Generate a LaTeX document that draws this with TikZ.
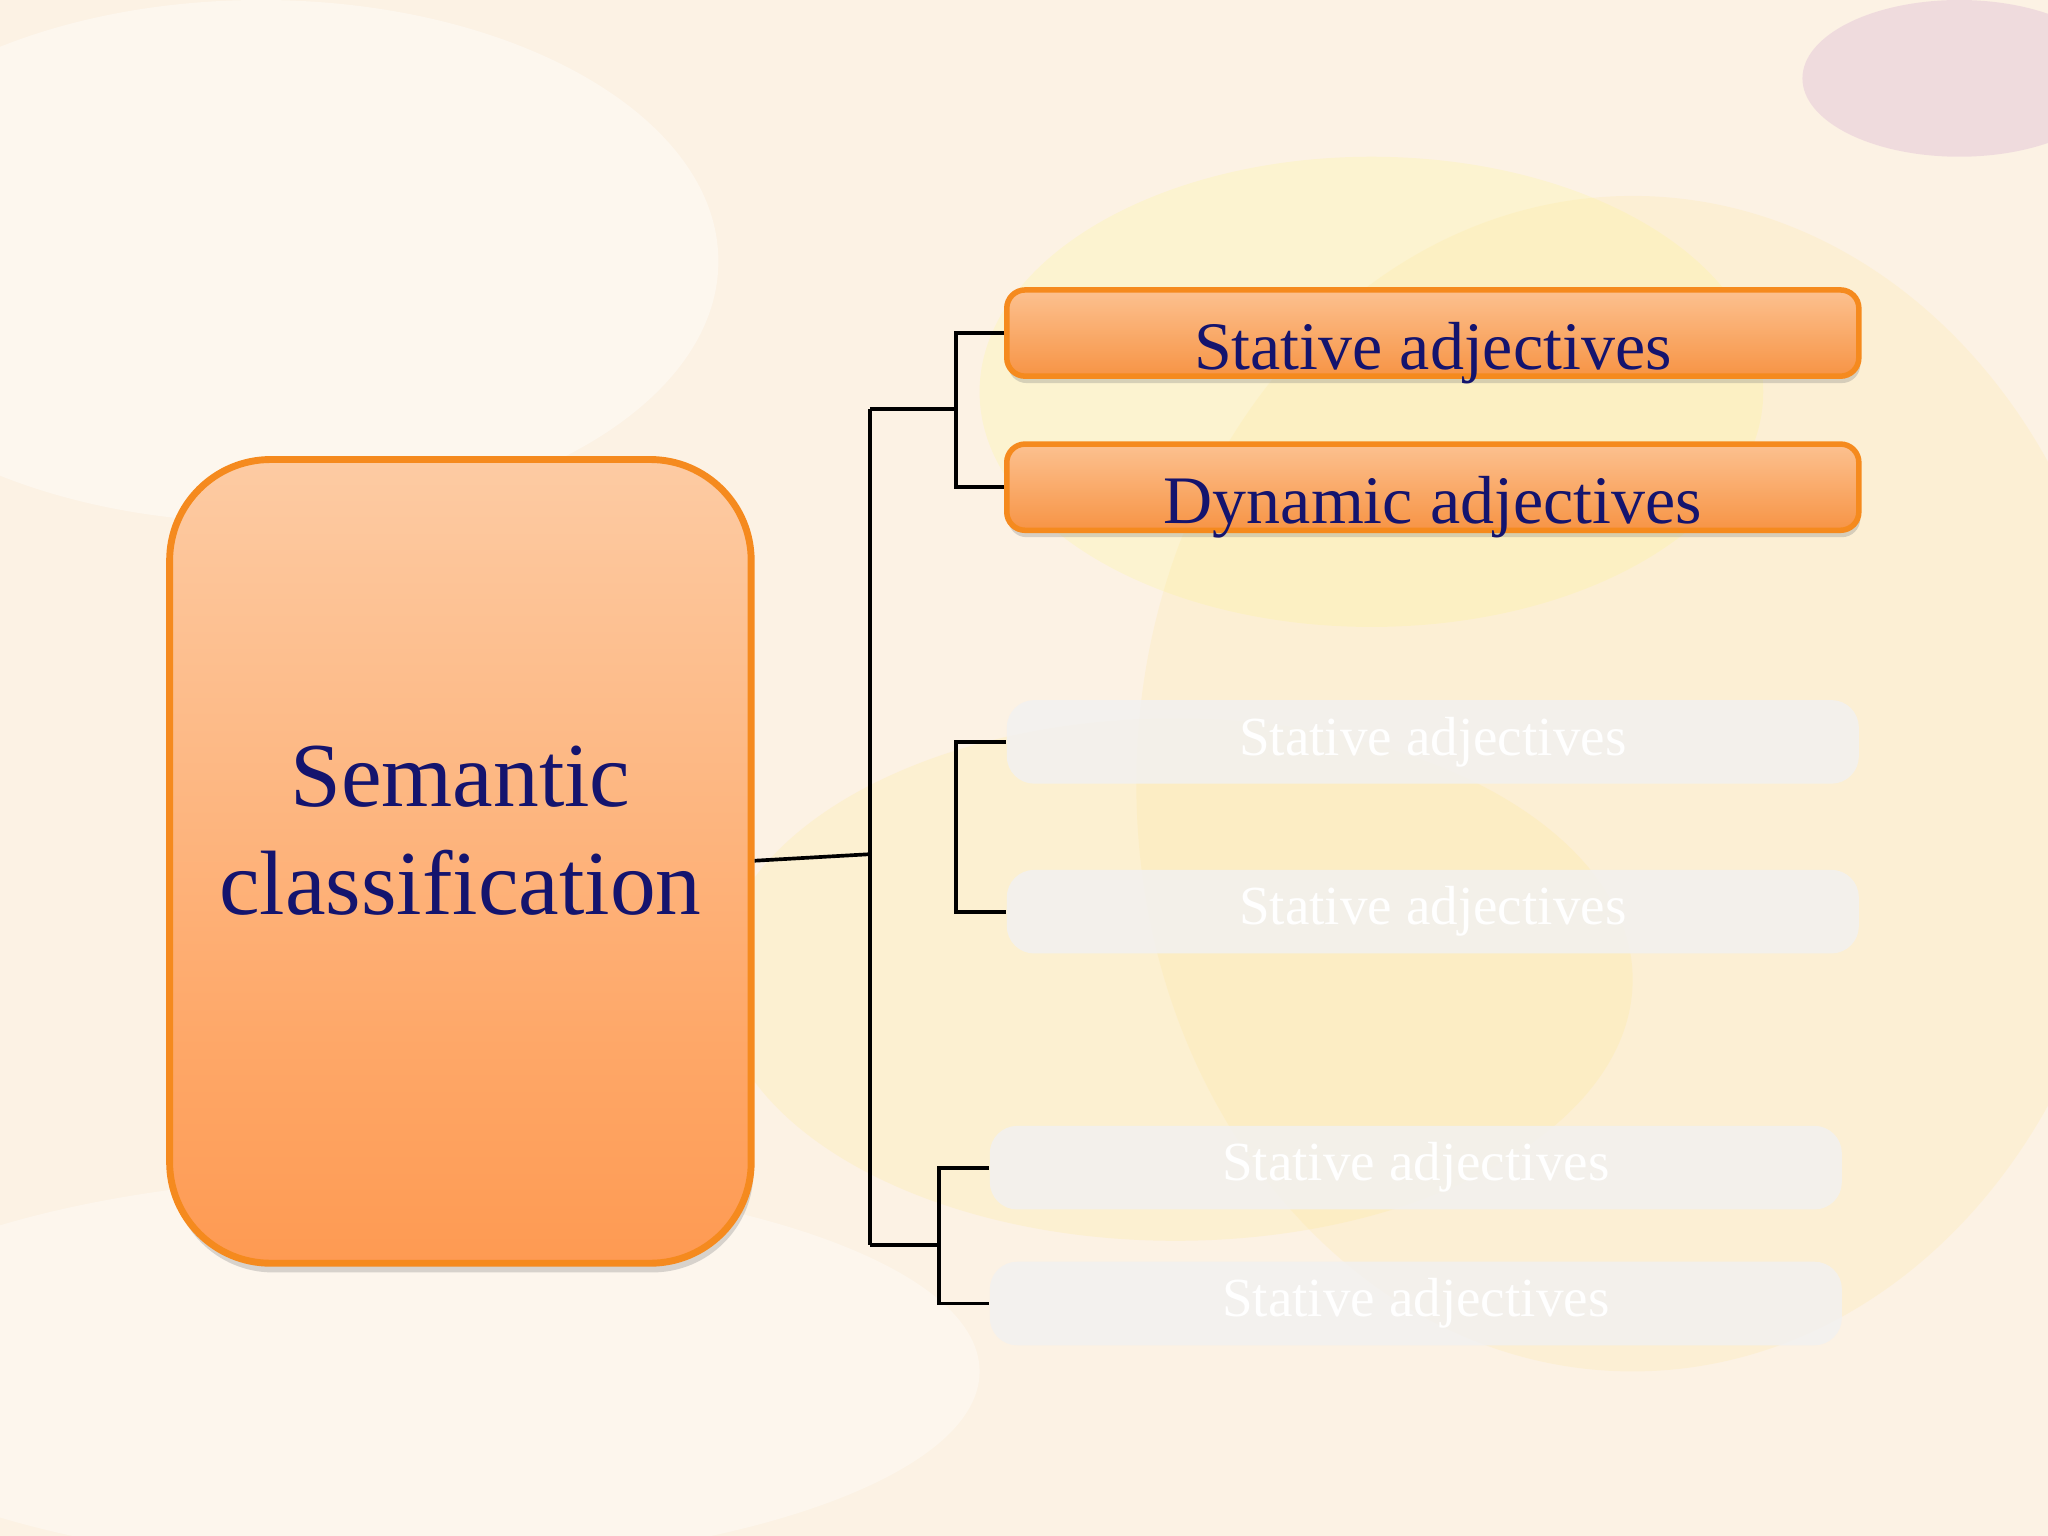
\documentclass[tikz,border=0pt]{standalone}
\usepackage{fontspec}
\setmainfont{Liberation Serif}
\usetikzlibrary{shadows}
\definecolor{navy}{HTML}{14146E}
\definecolor{obord}{HTML}{F58A1E}
\definecolor{otop}{HTML}{FDCBA3}
\definecolor{obot}{HTML}{FE9A52}
\definecolor{btop}{HTML}{FCC190}
\definecolor{bbot}{HTML}{F79445}
\definecolor{bg}{HTML}{FCF2E4}
\definecolor{ghost}{HTML}{F2F1F0}
\tikzset{
  orangebox/.style={draw=obord, line width=1.2pt, rounded corners=4pt, top color=btop, bottom color=bbot,
    minimum width=6.52cm, minimum height=0.66cm, text=navy, font=\fontsize{14.8}{16}\selectfont,
    drop shadow={shadow xshift=0.3pt, shadow yshift=-1.5pt, opacity=0.3}},
  ghostbox/.style={fill=ghost, fill opacity=0.85, text opacity=1, rounded corners=6pt,
    minimum width=6.52cm, minimum height=0.64cm, text=white, font=\fontsize{12}{14}\selectfont},
  conn/.style={draw=black, line width=0.8pt}
}
\begin{document}
\begin{tikzpicture}[x=0.01cm,y=-0.01cm]
\useasboundingbox (0,0) rectangle (1568,1176);
\fill[bg] (0,0) rectangle (1568,1176);
% soft background glows
\fill[yellow!60!orange!40, opacity=0.2] (1250,600) ellipse (380 and 450);
\fill[yellow!50, opacity=0.2] (1050,300) ellipse (300 and 180);
\fill[yellow!70!orange!50, opacity=0.18] (900,750) ellipse (350 and 200);
\fill[violet!40, opacity=0.25] (1500,60) ellipse (120 and 60);
\fill[white, opacity=0.4] (200,200) ellipse (350 and 200);
\fill[white, opacity=0.35] (300,1050) ellipse (450 and 150);
% main box
\node[draw=obord, line width=1.5pt, rounded corners=22pt, top color=otop, bottom color=obot,
  minimum width=4.45cm, minimum height=6.15cm,
  drop shadow={shadow xshift=0.5pt, shadow yshift=-2pt, opacity=0.3}]
  (main) at (352.5,659.5) {};
\node[text=navy, align=center, font=\fontsize{19.9}{23.5}\selectfont] (mtext) at (352.5,636) {Semantic\\classification};
% boxes
\node[orangebox, text depth=0pt, text height=12pt] (s1) at (1097,255) {\raisebox{-2pt}{Stative adjectives}};
\node[orangebox, text depth=0pt, text height=12pt] (s2) at (1097,373) {\raisebox{-2pt}{Dynamic adjectives}};
\node[ghostbox] (g1) at (1097,568) {\raisebox{-4pt}{Stative adjectives}};
\node[ghostbox] (g2) at (1097,698) {\raisebox{-4pt}{Stative adjectives}};
\node[ghostbox] (g3) at (1084,894) {\raisebox{-4pt}{Stative adjectives}};
\node[ghostbox] (g4) at (1084,998) {\raisebox{-4pt}{Stative adjectives}};
% connectors
\coordinate (t0) at (666,654);
\coordinate (ttop) at (666,313);
\coordinate (tbot) at (666,953);
\coordinate (b1) at (732,313);
\coordinate (b3) at (719,953);
\draw[conn] (main.east |- 0,659) -- (t0);
\draw[conn] (ttop) -- (tbot);
\draw[conn] (ttop) -- (b1);
\draw[conn] (s1.west) -- (732,255) -- (732,373) -- (s2.west);
\draw[conn] (g1.west) -- (732,568) -- (732,698) -- (g2.west);
\draw[conn] (tbot) -- (b3);
\draw[conn] (g3.west) -- (719,894) -- (719,998) -- (g4.west);
\end{tikzpicture}
\end{document}
